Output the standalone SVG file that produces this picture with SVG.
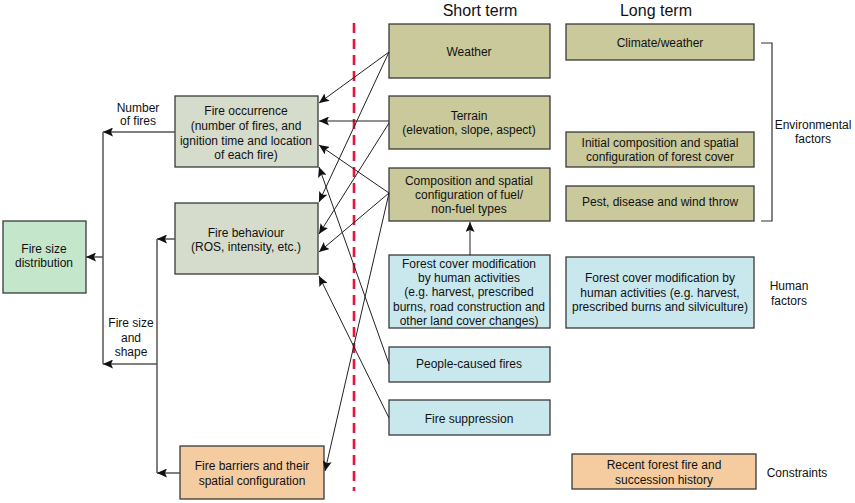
<svg xmlns="http://www.w3.org/2000/svg" width="855" height="503" viewBox="0 0 855 503">
<defs>
<marker id="ah" markerUnits="userSpaceOnUse" markerWidth="11" markerHeight="9" refX="10" refY="4.5" orient="auto">
<path d="M0,0 L10,4.5 L0,9 L2,4.5 z" fill="#111"/>
</marker>
<style>
.box{stroke:#3a3a3a;stroke-width:1.3}
.g{fill:#c4e6cb}
.gr{fill:#d6dccb}
.ol{fill:#c9c99b}
.bl{fill:#c9e8ed}
.or{fill:#f4cc9f}
text{font-family:"Liberation Sans",Arial,sans-serif;font-size:12px;fill:#111;text-anchor:middle}
.h{font-size:16px}
.c{fill:none;stroke:#222;stroke-width:1}
.t{fill:none;stroke:#555;stroke-width:1.5}
</style>
</defs>
<rect width="855" height="503" fill="#fff"/>

<text class="h" x="480" y="16">Short term</text>
<text class="h" x="656" y="16">Long term</text>

<line x1="354" y1="23" x2="354" y2="491" stroke="#e8173a" stroke-width="2.6" stroke-dasharray="10,6"/>

<g id="fire-size-distribution"><rect class="box g" x="3" y="221" width="83" height="72"/><text x="44" y="253">Fire size</text><text x="44" y="267">distribution</text></g>
<g id="fire-occurrence"><rect class="box gr" x="175" y="96" width="143" height="71"/><text x="246" y="115">Fire occurrence</text><text x="246" y="130">(number of fires, and</text><text x="246" y="145">ignition time and location</text><text x="246" y="159">of each fire)</text></g>
<g id="fire-behaviour"><rect class="box gr" x="175" y="203" width="143" height="71"/><text x="246" y="237">Fire behaviour</text><text x="246" y="251">(ROS, intensity, etc.)</text></g>
<g id="fire-barriers"><rect class="box or" x="180" y="446" width="144" height="53"/><text x="252" y="470">Fire barriers and their</text><text x="252" y="485">spatial configuration</text></g>

<g id="weather"><rect class="box ol" x="389" y="24" width="161" height="54"/><text x="469" y="56">Weather</text></g>
<g id="terrain"><rect class="box ol" x="389" y="96" width="161" height="53"/><text x="469" y="120">Terrain</text><text x="469" y="134">(elevation, slope, aspect)</text></g>
<g id="composition"><rect class="box ol" x="389" y="168" width="161" height="53"/><text x="469" y="185">Composition and spatial</text><text x="469" y="199">configuration of fuel/</text><text x="469" y="213">non-fuel types</text></g>
<g id="forest-cover-short"><rect class="box bl" x="389" y="255" width="161" height="73"/><text x="469" y="268">Forest cover modification</text><text x="469" y="282">by human activities</text><text x="469" y="296">(e.g. harvest, prescribed</text><text x="469" y="311">burns, road construction and</text><text x="469" y="325">other land cover changes)</text></g>
<g id="people-caused-fires"><rect class="box bl" x="389" y="347" width="161" height="35"/><text x="469" y="368">People-caused fires</text></g>
<g id="fire-suppression"><rect class="box bl" x="389" y="400" width="161" height="35"/><text x="469" y="423">Fire suppression</text></g>

<g id="climate-weather"><rect class="box ol" x="566" y="24" width="188" height="36"/><text x="660" y="47">Climate/weather</text></g>
<g id="initial-composition"><rect class="box ol" x="566" y="132" width="188" height="35"/><text x="660" y="147">Initial composition and spatial</text><text x="660" y="161">configuration of forest cover</text></g>
<g id="pest"><rect class="box ol" x="566" y="186" width="188" height="35"/><text x="660" y="206">Pest, disease and wind throw</text></g>
<g id="forest-cover-long"><rect class="box bl" x="566" y="257" width="188" height="71"/><text x="660" y="282">Forest cover modification by</text><text x="660" y="297">human activities (e.g. harvest,</text><text x="660" y="311">prescribed burns and silviculture)</text></g>
<g id="recent-fire"><rect class="box or" x="572" y="454" width="184" height="35"/><text x="664" y="469">Recent forest fire and</text><text x="664" y="484">succession history</text></g>

<g id="labels">
<path d="M761,43 H772 V221 H761" fill="none" stroke="#333" stroke-width="1.2"/>
<text x="813" y="129">Environmental</text><text x="813" y="143">factors</text>
<text x="789" y="290">Human</text><text x="789" y="305">factors</text>
<text x="797" y="477">Constraints</text>
<text x="138" y="112">Number</text><text x="138" y="125">of fires</text>
<text x="131" y="327">Fire size</text><text x="131" y="342">and</text><text x="131" y="356">shape</text>
</g>

<g id="connectors">
<line class="t" x1="175" y1="132" x2="103" y2="132" marker-end="url(#ah)"/>
<line class="t" x1="103" y1="132" x2="103" y2="364"/>
<line class="t" x1="103" y1="257" x2="86" y2="257" marker-end="url(#ah)"/>
<line class="t" x1="175" y1="239" x2="157" y2="239" marker-end="url(#ah)"/>
<line class="t" x1="157" y1="239" x2="157" y2="473"/>
<line class="t" x1="180" y1="473" x2="157" y2="473" marker-end="url(#ah)"/>
<line class="t" x1="157" y1="364" x2="103" y2="364" marker-end="url(#ah)"/>

<line class="c" x1="389" y1="52" x2="319" y2="103" marker-end="url(#ah)"/>
<line class="c" x1="389" y1="52" x2="319" y2="202" marker-end="url(#ah)"/>
<line class="c" x1="389" y1="121" x2="319" y2="121" marker-end="url(#ah)" stroke="#444" stroke-width="1.5"/>
<line class="c" x1="389" y1="123" x2="319" y2="234" marker-end="url(#ah)"/>
<line class="c" x1="389" y1="193" x2="319" y2="145" marker-end="url(#ah)"/>
<line class="c" x1="389" y1="193" x2="319" y2="252" marker-end="url(#ah)"/>
<line class="c" x1="389" y1="193" x2="325" y2="471" marker-end="url(#ah)"/>
<line class="c" x1="389" y1="364" x2="319" y2="167" marker-end="url(#ah)"/>
<line class="c" x1="389" y1="418" x2="319" y2="276" marker-end="url(#ah)"/>
<line class="c" x1="470" y1="255" x2="470" y2="222" marker-end="url(#ah)"/>
</g>
</svg>
